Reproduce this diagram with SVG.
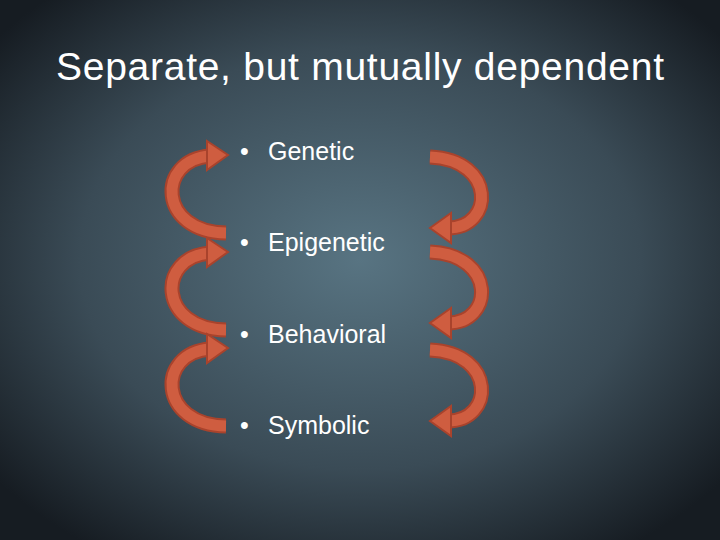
<svg xmlns="http://www.w3.org/2000/svg" width="720" height="540" viewBox="0 0 720 540">
<defs>
<radialGradient id="bg" cx="50%" cy="48%" r="65%">
<stop offset="0" stop-color="#587482"/><stop offset="0.6" stop-color="#3a4b56"/><stop offset="1" stop-color="#161c22"/>
</radialGradient>
<style>
.t{font-family:"Liberation Sans","Open Sans",sans-serif;fill:#fff}
.b1{fill:none;stroke:#a9432c;stroke-width:15}
.b2{fill:none;stroke:#cf5d40;stroke-width:11}
.h{fill:#cf5d40;stroke:#a9432c;stroke-width:2}
</style>
<g id="la">
<path class="b1" d="M226,233 C158,232 156,160 210,156"/>
<path class="b2" d="M226,233 C158,232 156,160 210,156"/>
<polygon class="h" points="207,141 228,155 207,170"/>
</g>
<g id="ra">
<path class="b1" d="M430,157 C497,160 494,228 448,228"/>
<path class="b2" d="M430,157 C497,160 494,228 448,228"/>
<polygon class="h" points="451,213 430,228 451,243"/>
</g>
</defs>
<rect width="720" height="540" fill="url(#bg)"/>
<text class="t" x="360" y="80" font-size="39" text-anchor="middle" textLength="608">Separate, but mutually dependent</text>
<g id="connectors">
<use href="#la"/><use href="#la" y="97"/><use href="#la" y="193"/>
<use href="#ra"/><use href="#ra" y="95"/><use href="#ra" y="193"/>
</g>
<g id="n1"><text class="t" x="240" y="160" font-size="25">•</text><text class="t" x="268" y="160" font-size="25">Genetic</text></g>
<g id="n2"><text class="t" x="240" y="251" font-size="25">•</text><text class="t" x="268" y="251" font-size="25">Epigenetic</text></g>
<g id="n3"><text class="t" x="240" y="343" font-size="25">•</text><text class="t" x="268" y="343" font-size="25">Behavioral</text></g>
<g id="n4"><text class="t" x="240" y="434" font-size="25">•</text><text class="t" x="268" y="434" font-size="25">Symbolic</text></g>
</svg>
